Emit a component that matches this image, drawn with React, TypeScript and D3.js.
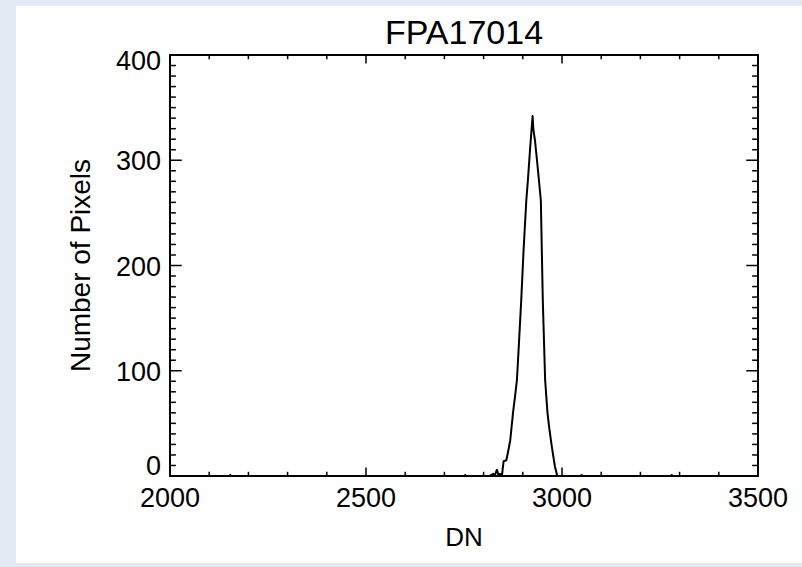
import React, { useEffect, useRef } from 'react';
import * as d3 from 'd3';

// histogram of FPA17014
const dnValues = [
  2000, 2153, 2154, 2155, 2752, 2753, 2754, 2815, 2820, 2825, 2828, 2831, 2834, 2838, 2842,
  2847, 2851, 2858, 2863, 2868, 2875, 2880, 2885, 2890, 2896, 2902, 2909, 2913, 2919, 2925,
  2927, 2931, 2937, 2946, 2951, 2957, 2963, 2967, 2974, 2982, 2988, 3049, 3050, 3051, 3279,
  3280, 3281, 3500,
];
const pixelCounts = [
  0, 0, 1, 0, 0, 1, 0, 0, 1, 2, 0, 3, 6, 1, 2,
  1, 14, 15, 24, 34, 60, 75, 91, 125, 167, 215, 262, 281, 313, 342,
  329, 319, 297, 262, 167, 91, 60, 47, 28, 9, 0, 0, 1, 0, 0,
  1, 0, 0,
];
const xTickLabels = [2000, 2500, 3000, 3500];
const yTickLabels = [0, 100, 200, 300, 400];

const FONT = '"Liberation Sans", Arial, Helvetica, sans-serif';

const App = () => {
  const ref = useRef<SVGSVGElement>(null);

  useEffect(() => {
    const W = 802, H = 567;
    const left = 170, right = 758, top = 55, bottom = 476;

    const svg = d3.select(ref.current);
    svg.selectAll('*').remove();

    // page frame
    svg.append('rect').attr('width', W).attr('height', H).attr('fill', '#e4eaf3');
    svg.append('rect').attr('x', 16).attr('y', 6).attr('width', W - 16).attr('height', 557).attr('fill', '#fff');

    const x = d3.scaleLinear().domain([2000, 3500]).range([left, right]);
    const y = d3.scaleLinear().domain([0, 400]).range([bottom, top]);

    const xMajLen = 0.02 * (bottom - top), yMajLen = 0.02 * (right - left);

    // ticks on all four sides, IDL style
    const tickG = svg.append('g').attr('stroke', '#000').attr('stroke-width', 1.5);
    d3.range(2000, 3501, 100).forEach((v) => {
      const len = v % 500 === 0 ? xMajLen : xMajLen / 2;
      tickG.append('line').attr('x1', x(v)).attr('x2', x(v)).attr('y1', bottom).attr('y2', bottom - len);
      tickG.append('line').attr('x1', x(v)).attr('x2', x(v)).attr('y1', top).attr('y2', top + len);
    });
    d3.range(0, 401, 10).forEach((v) => {
      const len = v % 100 === 0 ? yMajLen : yMajLen / 2;
      tickG.append('line').attr('x1', left).attr('x2', left + len).attr('y1', y(v)).attr('y2', y(v));
      tickG.append('line').attr('x1', right).attr('x2', right - len).attr('y1', y(v)).attr('y2', y(v));
    });

    svg
      .append('rect')
      .attr('x', left)
      .attr('y', top)
      .attr('width', right - left)
      .attr('height', bottom - top)
      .attr('fill', 'none')
      .attr('stroke', '#000')
      .attr('stroke-width', 2);

    // data line
    const pts = dnValues.map((d, i) => [d, pixelCounts[i]] as [number, number]);
    svg
      .append('path')
      .datum(pts)
      .attr('fill', 'none')
      .attr('stroke', '#000')
      .attr('stroke-width', 2)
      .attr('stroke-linejoin', 'round')
      .attr('d', d3.line<[number, number]>().x((d) => x(d[0])).y((d) => y(d[1])));

    const txt = svg.append('g').attr('font-family', FONT).attr('fill', '#000');

    txt
      .selectAll('.xl')
      .data(xTickLabels)
      .enter()
      .append('text')
      .attr('x', (d) => x(d))
      .attr('y', 507)
      .attr('text-anchor', 'middle')
      .attr('font-size', 27)
      .text((d) => d);

    txt
      .selectAll('.yl')
      .data(yTickLabels)
      .enter()
      .append('text')
      .attr('x', 161)
      .attr('y', (d) => (d === 0 ? y(d) - 1 : d === 400 ? y(d) + 15 : y(d) + 10))
      .attr('text-anchor', 'end')
      .attr('font-size', 27)
      .text((d) => d);

    txt
      .append('text')
      .attr('x', (left + right) / 2)
      .attr('y', 44)
      .attr('text-anchor', 'middle')
      .attr('font-size', 34)
      .text('FPA17014');

    txt
      .append('text')
      .attr('x', (left + right) / 2)
      .attr('y', 546)
      .attr('text-anchor', 'middle')
      .attr('font-size', 26)
      .text('DN');

    txt
      .append('text')
      .attr('transform', `translate(90,${(top + bottom) / 2})rotate(-90)`)
      .attr('text-anchor', 'middle')
      .attr('font-size', 28)
      .text('Number of Pixels');
  }, []);

  return (
    <div style={{ position: 'fixed', left: 0, top: 0 }}>
      <svg width={802} height={567} ref={ref} style={{ display: 'block' }} />
    </div>
  );
};

export default App;
